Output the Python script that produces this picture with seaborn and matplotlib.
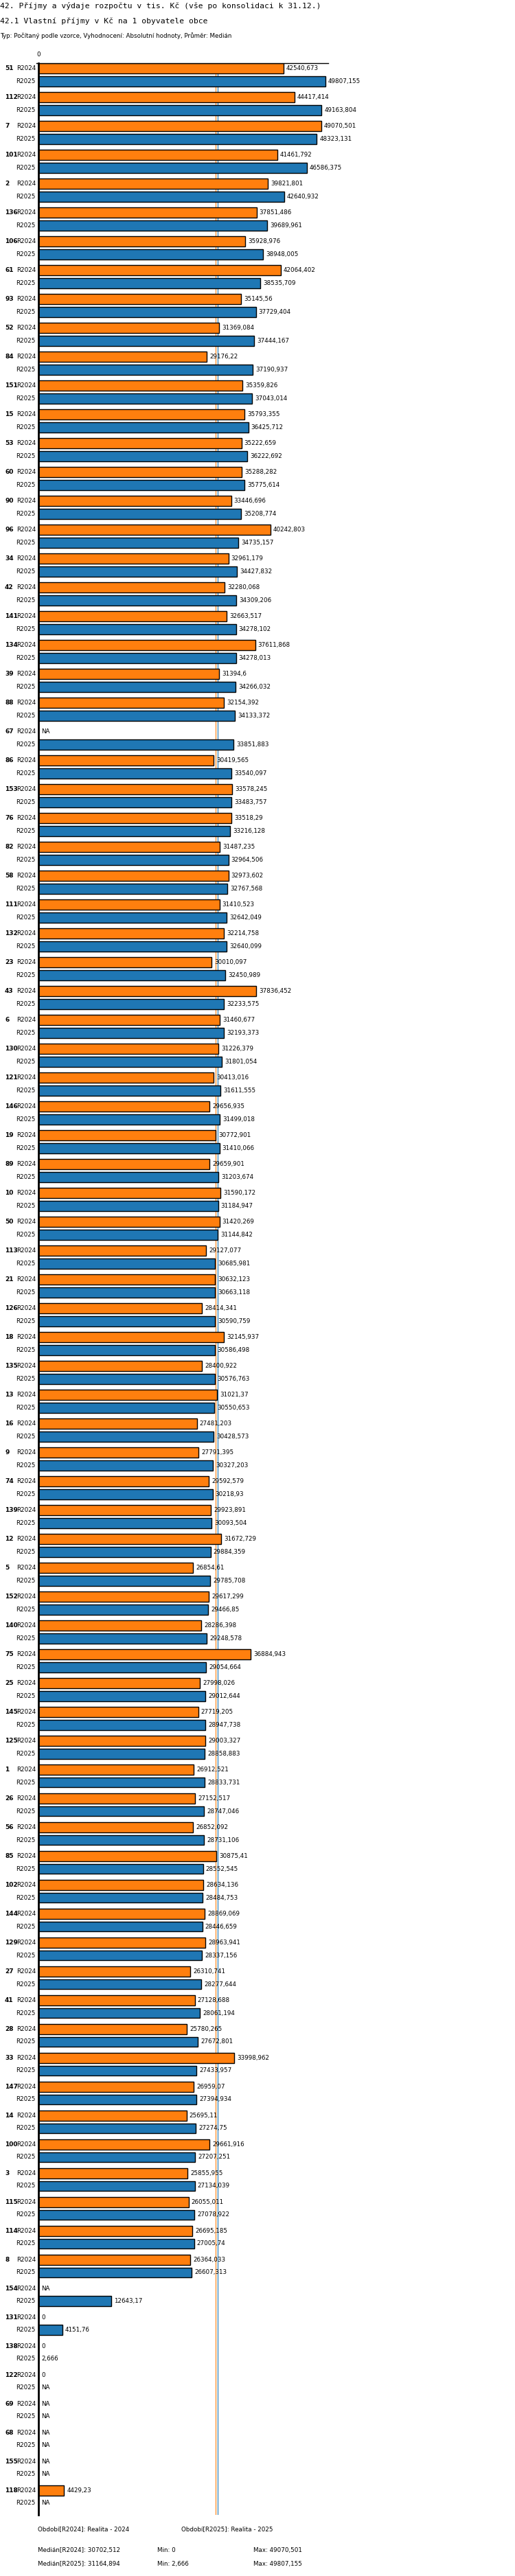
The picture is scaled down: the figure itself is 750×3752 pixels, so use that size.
import numpy as np
import pandas as pd
import matplotlib
matplotlib.use("Agg")
import matplotlib.pyplot as plt
import matplotlib.transforms as mtransforms
import seaborn as sns

# ----------------------------
# Data
# ----------------------------
NA = np.nan
obce = [51, 112, 7, 101, 2, 136, 106, 61, 93, 52, 84, 151, 15, 53, 60, 90, 96, 34, 42, 141,
        134, 39, 88, 67, 86, 153, 76, 82, 58, 111, 132, 23, 43, 6, 130, 121, 146, 19, 89, 10,
        50, 113, 21, 126, 18, 135, 13, 16, 9, 74, 139, 12, 5, 152, 140, 75, 25, 145, 125, 1,
        26, 56, 85, 102, 144, 129, 27, 41, 28, 33, 147, 14, 100, 3, 115, 114, 8, 154, 131, 138,
        122, 69, 68, 155, 118]

r2024 = [42540.673, 44417.414, 49070.501, 41461.792, 39821.801, 37851.486, 35928.976, 42064.402,
         35145.56, 31369.084, 29176.22, 35359.826, 35793.355, 35222.659, 35288.282, 33446.696,
         40242.803, 32961.179, 32280.068, 32663.517, 37611.868, 31394.6, 32154.392, NA,
         30419.565, 33578.245, 33518.29, 31487.235, 32973.602, 31410.523, 32214.758, 30010.097,
         37836.452, 31460.677, 31226.379, 30413.016, 29656.935, 30772.901, 29659.901, 31590.172,
         31420.269, 29127.077, 30632.123, 28414.341, 32145.937, 28400.922, 31021.37, 27481.203,
         27791.395, 29592.579, 29923.891, 31672.729, 26854.61, 29617.299, 28286.398, 36884.943,
         27998.026, 27719.205, 29003.327, 26912.521, 27152.517, 26852.092, 30875.41, 28634.136,
         28869.069, 28963.941, 26310.741, 27128.688, 25780.265, 33998.962, 26959.07, 25695.11,
         29661.916, 25855.955, 26055.011, 26695.185, 26364.033, NA, 0, 0,
         0, NA, NA, NA, 4429.23]

r2025 = [49807.155, 49163.804, 48323.131, 46586.375, 42640.932, 39689.961, 38948.005, 38535.709,
         37729.404, 37444.167, 37190.937, 37043.014, 36425.712, 36222.692, 35775.614, 35208.774,
         34735.157, 34427.832, 34309.206, 34278.102, 34278.013, 34266.032, 34133.372, 33851.883,
         33540.097, 33483.757, 33216.128, 32964.506, 32767.568, 32642.049, 32640.099, 32450.989,
         32233.575, 32193.373, 31801.054, 31611.555, 31499.018, 31410.066, 31203.674, 31184.947,
         31144.842, 30685.981, 30663.118, 30590.759, 30586.498, 30576.763, 30550.653, 30428.573,
         30327.203, 30218.93, 30093.504, 29884.359, 29785.708, 29466.85, 29248.578, 29054.664,
         29012.644, 28947.738, 28858.883, 28833.731, 28747.046, 28731.106, 28552.545, 28484.753,
         28446.659, 28337.156, 28277.644, 28061.194, 27672.801, 27433.957, 27394.934, 27274.75,
         27207.251, 27134.039, 27078.922, 27005.74, 26607.313, 12643.17, 4151.76, 2.666,
         NA, NA, NA, NA, NA]

obdobi = ["R2024", "R2025"]
barvy = ["#ff7f0e", "#1f77b4"]
median = [30702.512, 31164.894]
minima = ["0", "2,666"]
maxima = ["49070,501", "49807,155"]


def fmt(v):
    if np.isnan(v):
        return "NA"
    if v == int(v):
        return str(int(v))
    return str(v).replace(".", ",")


# ----------------------------
# Plot
# ----------------------------
W, H = 750, 3752
fig = plt.figure(figsize=(W / 100, H / 100), dpi=100)
narrow = ["DejaVu Sans Condensed", "Liberation Sans Narrow", "DejaVu Sans"]
small = dict(family=narrow, fontsize=6.3)

top_px, bot_px = 92, 3663
ax = fig.add_axes([56 / W, 1 - bot_px / H, 422 / W, (bot_px - top_px) / H])

cats = [str(c) for c in obce]
df = pd.DataFrame({
    "obec": cats * 2,
    "obdobi": ["R2024"] * len(cats) + ["R2025"] * len(cats),
    "hodnota": r2024 + r2025,
})

sns.barplot(data=df, y="obec", x="hodnota", hue="obdobi", order=cats, hue_order=obdobi,
            palette=barvy, orient="h", width=0.86, gap=0.17, errorbar=None,
            edgecolor="black", linewidth=1, saturation=1, legend=False, ax=ax)

n = len(cats)
ax.set_xlim(0, 50300)
ax.set_ylim(n - 1 + 0.62, -0.405)
ax.set_xlabel("")
ax.set_ylabel("")
ax.set_xticks([])
ax.set_yticks([])
for s in ["top", "right", "bottom"]:
    ax.spines[s].set_visible(False)
ax.spines["left"].set_linewidth(2)

for m, c in zip(median, barvy):
    ax.axvline(m, color=c, lw=0.8, zorder=0)

# value labels
for j, vals in enumerate([r2024, r2025]):
    off = -0.215 if j == 0 else 0.215
    for i, v in enumerate(vals):
        x = 0 if np.isnan(v) else v
        ax.annotate(fmt(v), (x, i + off), xytext=(3, 0), textcoords="offset points",
                    va="center", ha="left", **small)

# group / period labels
tr = mtransforms.blended_transform_factory(fig.transFigure, ax.transData)
for i, c in enumerate(cats):
    ax.text(7 / W, i - 0.215, c, transform=tr, va="center", ha="left",
            fontweight="bold", family=narrow, fontsize=6.5)
    ax.text(52 / W, i - 0.215, "R2024", transform=tr, va="center", ha="right", **small)
    ax.text(52 / W, i + 0.215, "R2025", transform=tr, va="center", ha="right", **small)

# top axis line and zero label
fig.add_artist(plt.Line2D([53 / W, 478 / W], [1 - top_px / H] * 2, color="black", lw=1))
fig.text(56 / W, 1 - 80 / H, "0", ha="center", va="center", **small)

# titles
mono = "DejaVu Sans Mono"
fig.text(0, 1 - 9 / H, "42. Příjmy a výdaje rozpočtu v tis. Kč (vše po konsolidaci k 31.12.)",
         family=mono, fontsize=8.2, va="center", ha="left")
fig.text(0, 1 - 31 / H, "42.1 Vlastní příjmy v Kč na 1 obyvatele obce",
         family=mono, fontsize=8.2, va="center", ha="left")
fig.text(0, 1 - 52 / H, "Typ: Počítaný podle vzorce, Vyhodnocení: Absolutní hodnoty, Průměr: Medián",
         va="center", ha="left", **small)

# footer
fig.text(55 / W, 1 - 3684 / H, "Období[R2024]: Realita - 2024", va="center", **small)
fig.text(264 / W, 1 - 3684 / H, "Období[R2025]: Realita - 2025", va="center", **small)
for k, y in enumerate([3714, 3734]):
    fig.text(55 / W, 1 - y / H, f"Medián[{obdobi[k]}]: {fmt(median[k])}", va="center", **small)
    fig.text(229 / W, 1 - y / H, f"Min: {minima[k]}", va="center", **small)
    fig.text(369 / W, 1 - y / H, f"Max: {maxima[k]}", va="center", **small)

fig.savefig("out.png", dpi=100)
